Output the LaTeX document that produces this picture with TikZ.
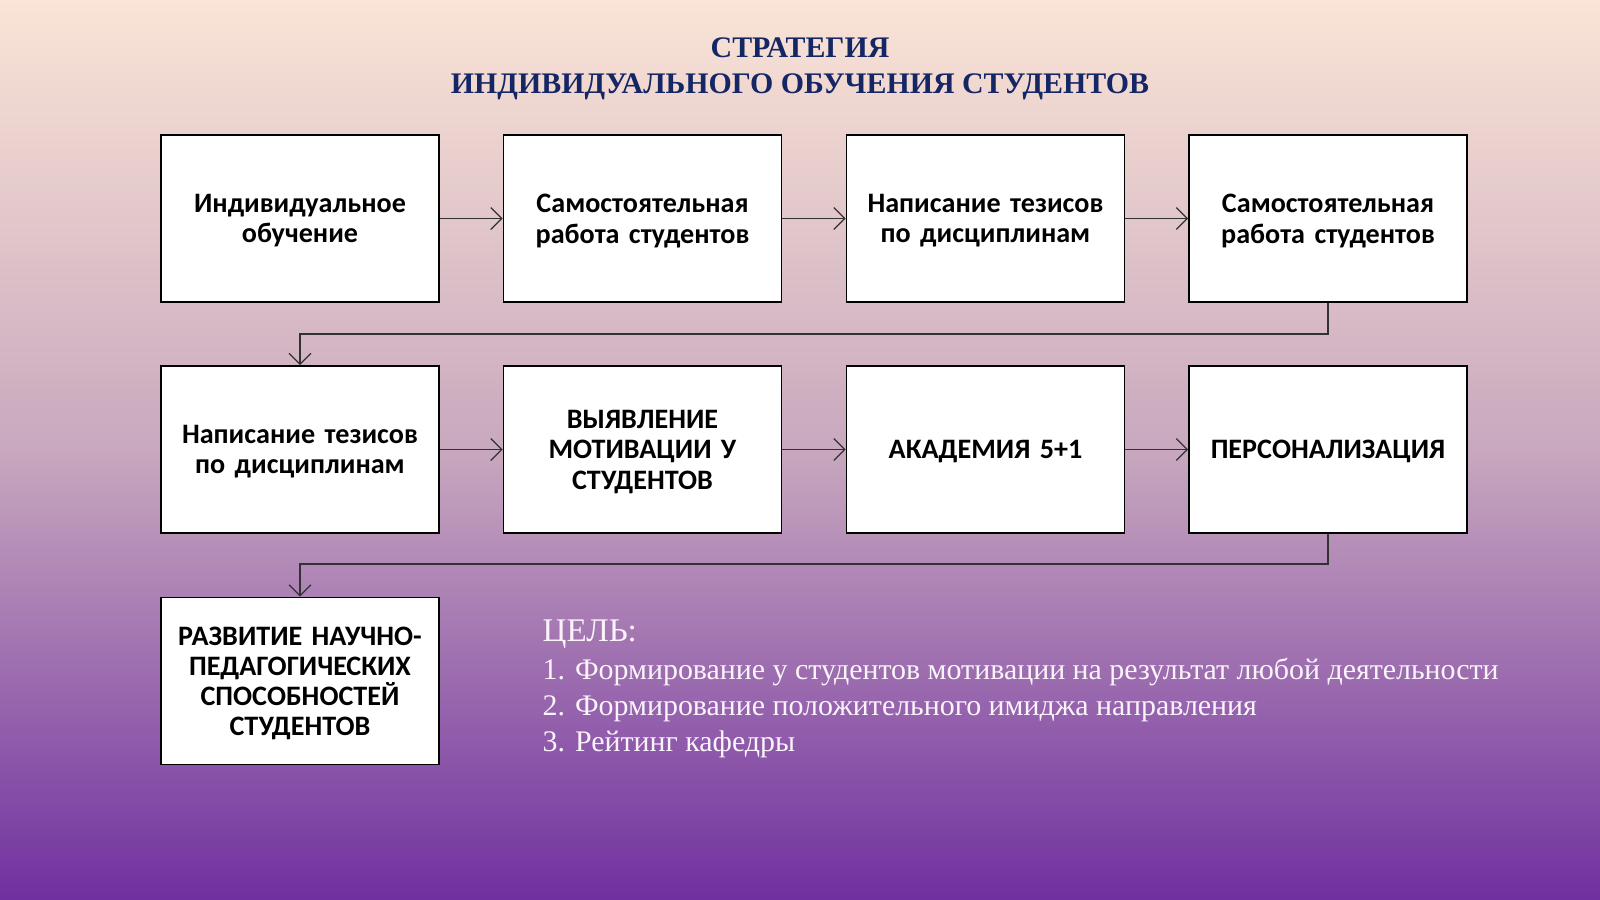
\documentclass[tikz,border=0pt]{standalone}
\usepackage{fontspec}
\setmainfont{Liberation Serif}
\newfontfamily\boxfont{Carlito}
\usetikzlibrary{arrows.meta}
\definecolor{bgtop}{RGB}{250,228,214}
\definecolor{bgmid}{RGB}{200,168,190}
\definecolor{bgbot}{RGB}{112,48,160}
\definecolor{titlecol}{RGB}{20,38,100}
\definecolor{goalcol}{RGB}{250,244,250}
\definecolor{linkcol}{RGB}{50,50,50}
\tikzset{
  stepbox/.style={draw=black, line width=0.45pt, fill=white, minimum width=2.78cm, minimum height=1.67cm, align=center, inner sep=0pt,
    font=\boxfont\bfseries\fontsize{8}{8.6}\selectfont, text width=2.6cm, execute at end node={\par\vspace*{-1.4pt}}},
  link/.style={draw=linkcol, line width=0.35pt, -{Straight Barb[length=1.1mm,width=2.2mm,line width=0.35pt]}},
  titletext/.style={text=titlecol, anchor=base, inner sep=0pt, font=\bfseries\fontsize{8.5}{10}\selectfont},
  goaltext/.style={anchor=base west, text=goalcol, inner sep=0pt, font=\fontsize{8.5}{9}\selectfont},
}
\begin{document}
\begin{tikzpicture}[x=0.01cm,y=-0.01cm]
\useasboundingbox (0,0) rectangle (1600,900);
\shade[top color=bgtop, bottom color=bgbot, middle color=bgmid] (0,0) rectangle (1600,900);
\node[titletext] (t1) at (800,57.5) {СТРАТЕГИЯ};
\node[titletext] (t2) at (800,93.5) {ИНДИВИДУАЛЬНОГО ОБУЧЕНИЯ СТУДЕНТОВ};

\node[stepbox] (b1) at (300,218.5) {Индивидуальное\\обучение};
\node[stepbox] (b2) at (642.5,218.5) {Самостоятельная\\работа студентов};
\node[stepbox] (b3) at (985.5,218.5) {Написание тезисов\\по дисциплинам};
\node[stepbox] (b4) at (1328,218.5) {Самостоятельная\\работа студентов};
\node[stepbox] (b5) at (300,449.5) {Написание тезисов\\по дисциплинам};
\node[stepbox] (b6) at (642.5,449.5) {ВЫЯВЛЕНИЕ\\МОТИВАЦИИ У\\СТУДЕНТОВ};
\node[stepbox] (b7) at (985.5,449.5) {АКАДЕМИЯ 5+1};
\node[stepbox] (b8) at (1328,449.5) {ПЕРСОНАЛИЗАЦИЯ};
\node[stepbox] (b9) at (300,681) {РАЗВИТИЕ НАУЧНО-\\ПЕДАГОГИЧЕСКИХ\\СПОСОБНОСТЕЙ\\СТУДЕНТОВ};

\draw[link] (b1) -- (b2);
\draw[link] (b2) -- (b3);
\draw[link] (b3) -- (b4);
\draw[link] (b5) -- (b6);
\draw[link] (b6) -- (b7);
\draw[link] (b7) -- (b8);
\coordinate (e1) at (1328,334);
\coordinate (e2) at (1328,564);
\draw[link] (b4.south) -- (e1) -| (b5.north);
\draw[link] (b8.south) -- (e2) -| (b9.north);

\node[goaltext, font=\fontsize{9.4}{10}\selectfont] (g0) at (542,641.5) {ЦЕЛЬ:};
\node[goaltext] (g1) at (542,679) {1. Формирование у студентов мотивации на результат любой деятельности};
\node[goaltext] (g2) at (542,715) {2. Формирование положительного имиджа направления};
\node[goaltext] (g3) at (542,751.5) {3. Рейтинг кафедры};
\end{tikzpicture}
\end{document}
